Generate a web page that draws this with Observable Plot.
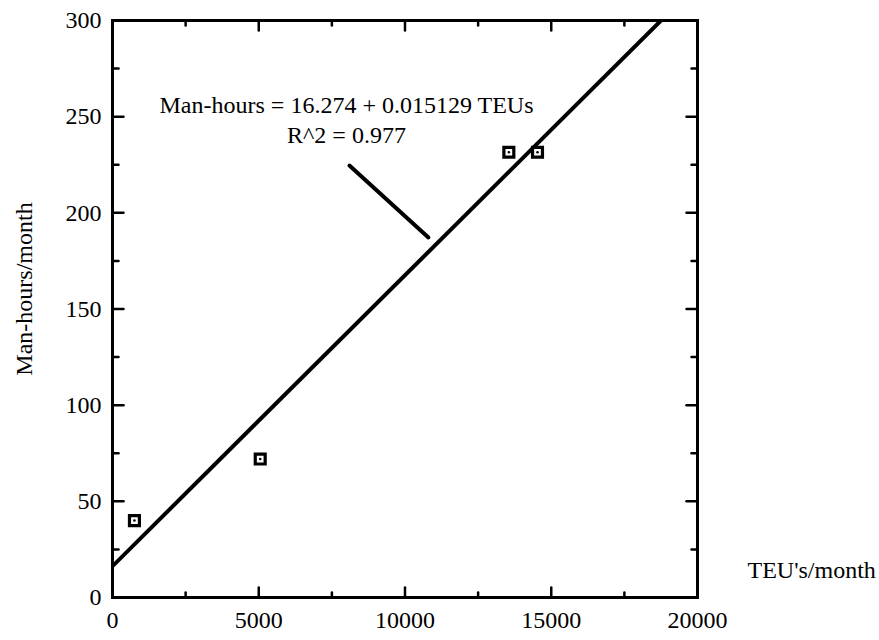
<!DOCTYPE html>
<html>
<head>
<meta charset="utf-8">
<script src="https://cdn.jsdelivr.net/npm/d3@7"></script>
<script src="https://cdn.jsdelivr.net/npm/@observablehq/plot@0.6"></script>
<style>
  html, body { margin: 0; padding: 0; background: #fff; }
  svg { display: block; }
</style>
</head>
<body>
<div id="chart"></div>
<script>
// Observed data (TEU's/month vs Man-hours/month)
const teus = [750, 5050, 13550, 14530];
const manHours = [40, 72, 231.5, 231.5];

// Published regression fit
const intercept = 16.274;
const slope = 0.015129;
const fitX = [0, 20000];

// Annotation text and pointer
const annLines = ["Man-hours = 16.274 + 0.015129 TEUs", "R^2 = 0.977"];
const annX = [8000, 8000];
const annY = [255.8, 240.2];
const pointerX = [8100, 10800];
const pointerY = [224.6, 187.2];

// Axes
const xMajor = [0, 5000, 10000, 15000, 20000];
const xMinor = [2500, 7500, 12500, 17500];
const yMajor = [0, 50, 100, 150, 200, 250, 300];
const yMinor = [25, 75, 125, 175, 225, 275];
const xLabel = "TEU's/month";
const yLabel = "Man-hours/month";

const points = teus.map((x, i) => ({x, y: manHours[i]}));
const fit = fitX.map(x => ({x, y: intercept + slope * x}));
const ann = annLines.map((t, i) => ({t, x: annX[i], y: annY[i]}));
const pointer = pointerX.map((x, i) => ({x, y: pointerY[i]}));

const tickShape = {draw(context, l) { context.moveTo(0, 0); context.lineTo(0, -l); }};
function xTicks(vals, len) {
  return [
    Plot.vector(vals, {x: d => d, frameAnchor: "bottom", rotate: 0, length: len, anchor: "start", shape: tickShape, stroke: "#000", strokeWidth: 2.5}),
    Plot.vector(vals, {x: d => d, frameAnchor: "top", rotate: 180, length: len, anchor: "start", shape: tickShape, stroke: "#000", strokeWidth: 2.5})
  ];
}
function yTicks(vals, len) {
  return [
    Plot.vector(vals, {y: d => d, frameAnchor: "left", rotate: 90, length: len, anchor: "start", shape: tickShape, stroke: "#000", strokeWidth: 2.5}),
    Plot.vector(vals, {y: d => d, frameAnchor: "right", rotate: -90, length: len, anchor: "start", shape: tickShape, stroke: "#000", strokeWidth: 2.5})
  ];
}

const FS = 24;
const chart = Plot.plot({
  width: 879,
  height: 640,
  marginLeft: 112,
  marginRight: 182,
  marginTop: 20,
  marginBottom: 43,
  style: {fontFamily: "'Liberation Serif', 'Times New Roman', serif", background: "#fff", color: "#000"},
  x: {domain: [0, 20000], axis: null},
  y: {domain: [0, 300], axis: null},
  marks: [
    Plot.line(fit, {x: "x", y: "y", stroke: "#000", strokeWidth: 4, clip: true}),
    Plot.line(pointer, {x: "x", y: "y", stroke: "#000", strokeWidth: 4, strokeLinecap: "round"}),
    Plot.dot(points, {x: "x", y: "y", symbol: "square", r: 5.6, stroke: "#000", strokeWidth: 3.2, fill: "#fff"}),
    Plot.dot(points, {x: "x", y: "y", r: 1.3, fill: "#000"}),
    Plot.text(ann, {x: "x", y: "y", text: "t", fontSize: FS, fill: "#000"}),
    ...xTicks(xMajor, 10), ...xTicks(xMinor, 5),
    ...yTicks(yMajor, 11), ...yTicks(yMinor, 6),
    Plot.frame({stroke: "#000", strokeWidth: 3}),
    Plot.text(xMajor, {x: d => d, frameAnchor: "bottom", dy: 30, text: d => String(d), fontSize: FS, fill: "#000"}),
    Plot.text(yMajor, {y: d => d, frameAnchor: "left", dx: -11, textAnchor: "end", text: d => String(d), fontSize: FS, fill: "#000"}),
    Plot.text([xLabel], {frameAnchor: "bottom-right", dx: 50, dy: -20, textAnchor: "start", text: d => d, fontSize: FS, fill: "#000"}),
    Plot.text([yLabel], {frameAnchor: "left", dx: -88, dy: -20, rotate: -90, textAnchor: "middle", text: d => d, fontSize: FS, fill: "#000"})
  ]
});
document.getElementById("chart").appendChild(chart);
</script>
</body>
</html>
